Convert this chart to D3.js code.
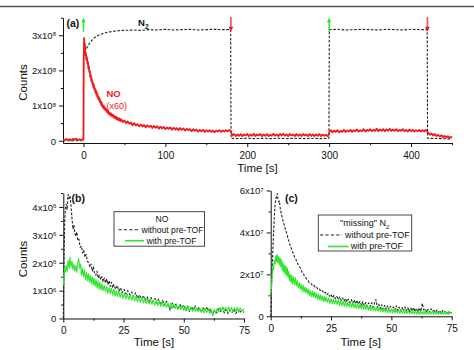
<!DOCTYPE html>
<html>
<head>
<meta charset="utf-8">
<script src="https://cdn.jsdelivr.net/npm/d3@7"></script>
<style>
  body { margin: 0; background: #fff; }
  svg { display: block; font-family: "Liberation Sans", Arial, sans-serif; }
</style>
</head>
<body>
<svg id="chart" width="474" height="350"></svg>
<script>
// ---- data ----
// (a) NO signal x60, units 1e8 counts, [time s, value]
const noTop = [
  [-25,0.03],[-23,0.01],[-21,0.05],[-19,0.02],[-17,0.04],[-15,0.01],[-13,0.05],[-11,0.03],[-9,0.06],[-7,0.02],[-5,0.04],[-3,0.02],[-1,0.05],[0,0.03],
  [0.2,2.2],[0.8,2.92],[1.3,2.6],[1.8,2.75],[2.4,2.45],[3,2.5],[3.6,2.3],[4.2,2.38],[4.8,2.2],[5.4,2.25],[6,2.05],[6.6,2.12],[7.2,1.95],[7.8,1.98],[8.4,1.8],[9,1.86],[9.6,1.7],[10.2,1.76],[10.8,1.62],[11.4,1.66],[12,1.52],[12.6,1.6],[13.2,1.46],[13.8,1.5],[14.4,1.38],[15,1.44],[15.6,1.32],[16.2,1.38],[16.8,1.26],[17.4,1.3],[18,1.19],[18.6,1.25],[19.2,1.14],[19.8,1.2],[20.4,1.08],[21,1.13],[21.6,1.03],[22.2,1.09],[22.8,0.98],[23.4,1.02],[24,0.94],[24.6,0.99],[25.2,0.9],[26,0.95],[27,0.86],[28,0.9],[29,0.8],[30,0.86],[31,0.76],[32,0.8],[33,0.72],[34,0.77],[35,0.69],[36,0.74],[37,0.66],[38,0.7],[39,0.63],[40,0.68],[41,0.6],[42,0.65],[43,0.58],[44,0.63],[45,0.56],[46,0.61],[48,0.53],[50,0.58],[52,0.5],[54,0.55],[56,0.48],[58,0.52],[60,0.44],[62,0.5],[64,0.43],[66,0.47],[68,0.41],[70,0.46],[72,0.4],[74,0.45],[76,0.38],[78,0.44],[80,0.39],[82,0.43],[84,0.36],[86,0.42],[88,0.37],[90,0.41],[92,0.34],[94,0.4],[96,0.35],[98,0.39],[100,0.33],[102,0.38],[104,0.34],[106,0.38],[108,0.31],[110,0.37],[112,0.32],[114,0.36],[116,0.3],[118,0.36],[120,0.31],[122,0.35],[124,0.29],[126,0.34],[128,0.3],[130,0.33],[132,0.27],[134,0.33],[136,0.28],[138,0.32],[140,0.26],[142,0.31],[144,0.27],[146,0.31],[148,0.25],[150,0.3],[152,0.26],[154,0.3],[156,0.25],[158,0.29],[160,0.24],[162,0.29],[164,0.26],[166,0.3],[168,0.25],[170,0.29],[172,0.26],[174,0.3],[176,0.27],[178,0.31],[179.5,0.28],
  [181,0.2],[182,0.15],[184,0.19],[186,0.13],[188,0.18],[190,0.14],[192,0.19],[194,0.13],[196,0.18],[198,0.15],[200,0.19],[202,0.13],[204,0.18],[206,0.14],[208,0.2],[210,0.13],[212,0.18],[214,0.15],[216,0.19],[218,0.13],[220,0.18],[222,0.14],[224,0.19],[226,0.13],[228,0.17],[230,0.14],[232,0.2],[234,0.14],[236,0.18],[238,0.13],[240,0.19],[242,0.15],[244,0.2],[246,0.14],[248,0.18],[250,0.13],[252,0.19],[254,0.15],[256,0.18],[258,0.13],[260,0.19],[262,0.14],[264,0.18],[266,0.13],[268,0.19],[270,0.15],[272,0.18],[274,0.13],[276,0.19],[278,0.14],[280,0.18],[282,0.13],[284,0.18],[286,0.14],[288,0.19],[290,0.13],[292,0.18],[294,0.14],[296,0.17],[298,0.13],[299.5,0.18],
  [300.5,0.26],[302,0.3],[304,0.24],[306,0.29],[308,0.25],[310,0.3],[312,0.24],[314,0.28],[316,0.25],[318,0.31],[320,0.25],[322,0.29],[324,0.26],[326,0.31],[328,0.25],[330,0.3],[332,0.27],[334,0.32],[336,0.26],[338,0.3],[340,0.27],[342,0.33],[344,0.26],[346,0.31],[348,0.28],[350,0.33],[352,0.27],[354,0.31],[356,0.28],[358,0.34],[360,0.27],[362,0.32],[364,0.28],[366,0.33],[368,0.27],[370,0.32],[372,0.28],[374,0.34],[376,0.28],[378,0.32],[380,0.28],[382,0.33],[384,0.27],[386,0.31],[388,0.28],[390,0.33],[392,0.27],[394,0.31],[396,0.26],[398,0.32],[400,0.27],[402,0.31],[404,0.26],[406,0.3],[408,0.27],[410,0.31],[412,0.26],[414,0.3],[416,0.27],[418,0.31],[419.5,0.27],
  [421,0.22],[423,0.17],[425,0.21],[427,0.15],[429,0.19],[431,0.13],[433,0.17],[435,0.12],[437,0.16],[439,0.1],[441,0.14],[443,0.09],[445,0.13],[447,0.08],[449,0.11],[450,0.09]
];
// (a) N2 signal, units 1e8 counts
const n2Top = [
  [-25,0],[0,0],[0.3,2.5],[2,2.56],[4,2.64],[6,2.72],[8,2.8],[10,2.85],[12,2.9],[15,2.96],[18,3.0],[21,3.03],[25,3.06],[30,3.09],[36,3.11],[42,3.13],[50,3.14],[60,3.15],[70,3.14],[80,3.16],[90,3.15],[100,3.17],[110,3.15],[120,3.16],[130,3.17],[140,3.15],[150,3.16],[160,3.17],[170,3.16],[179.7,3.16],
  [180.2,0.07],[190,0.06],[200,0.07],[210,0.06],[220,0.07],[230,0.06],[240,0.07],[250,0.06],[260,0.07],[270,0.06],[280,0.07],[290,0.06],[299.7,0.07],
  [300.2,3.16],[310,3.17],[320,3.15],[330,3.16],[340,3.17],[350,3.16],[360,3.15],[370,3.17],[380,3.16],[390,3.15],[400,3.17],[410,3.16],[419.7,3.16],
  [420.2,0.07],[435,0.06],[450,0.05]
];
const valveOpen = [0, 300];    // green arrows
const valveClose = [180, 420]; // red arrows

// (b) NO, units 1e6 counts
const noWithout = [
  [0,0],[0.3,2.2],[0.6,3.5],[0.9,3.95],[1.2,4.1],[1.6,3.9],[2,4.45],[2.4,4.3],[2.8,4.4],[3.2,4.05],[3.6,3.6],[4,3.2],[4.4,3.35],[4.8,3.05],[5.2,2.95],[5.6,3.1],[6,2.8],[6.5,2.85],[7,2.55],[7.5,2.6],[8,2.35],[8.5,2.45],[9,2.2],[9.5,2.3],[10,2.05],[10.5,2.0],[11,1.85],[11.5,1.95],[12,1.7],[12.5,1.85],[13,1.6],[13.5,1.55],[14,1.7],[14.5,1.45],[15,1.55],[15.5,1.4],[16,1.5],[16.5,1.32],[17,1.45],[17.5,1.28],[18,1.42],[18.5,1.22],[19,1.35],[19.5,1.15],[20,1.3],[20.5,1.1],[21,1.22],[21.7,1.05],[22.4,1.18],[23.1,0.98],[23.8,1.1],[24.5,0.92],[25.2,1.05],[26,0.88],[26.8,1.0],[27.6,0.85],[28.4,0.95],[29.2,0.78],[30,0.92],[30.8,0.72],[31.6,0.85],[32.4,0.7],[33.2,0.82],[34,0.65],[34.8,0.78],[35.6,0.62],[36.4,0.75],[37.2,0.6],[38,0.72],[38.8,0.55],[39.6,0.7],[40.4,0.5],[41.2,0.65],[42,0.48],[42.8,0.62],[43.6,0.45],[44.4,0.3],[45.2,0.55],[46,0.4],[46.8,0.52],[47.6,0.32],[48.4,0.5],[49.2,0.38],[50,0.48],[50.8,0.3],[51.6,0.45],[52.4,0.25],[53.2,0.42],[54,0.32],[54.8,0.45],[55.6,0.28],[56.4,0.4],[57.2,0.22],[58,0.38],[58.8,0.3],[59.6,0.42],[60.4,0.26],[61.2,0.35],[62,0.12],[62.8,0.3],[63.6,0.2],[64.4,0.35],[65.2,0.25],[66,0.38],[66.8,0.2],[67.6,0.32],[68.4,0.18],[69.2,0.3],[70,0.22],[70.8,0.34],[71.6,0.18],[72.4,0.3],[73.2,0.2],[74,0.28],[75,0.22]
];
const noWith = [
  [0,1.2],[0.3,1.6],[0.6,1.8],[0.9,1.65],[1.2,1.9],[1.6,1.7],[2,2.1],[2.4,1.8],[2.8,2.2],[3.2,1.85],[3.6,2.05],[4,1.75],[4.4,1.95],[4.8,1.7],[5.2,1.9],[5.6,1.65],[6,2.0],[6.4,2.15],[6.8,1.8],[7.2,1.95],[7.6,1.55],[8,1.8],[8.4,1.5],[8.8,1.75],[9.2,1.4],[9.6,1.65],[10,1.35],[10.4,1.6],[10.8,1.3],[11.2,1.55],[11.6,1.25],[12,1.5],[12.4,1.2],[12.8,1.45],[13.2,1.15],[13.6,1.4],[14,1.1],[14.4,1.35],[14.8,1.05],[15.2,1.3],[15.6,1.02],[16,1.25],[16.5,1.0],[17,1.2],[17.5,0.95],[18,1.15],[18.5,0.9],[19,1.12],[19.5,0.88],[20,1.08],[20.5,0.84],[21,1.05],[21.5,0.8],[22,1.0],[22.5,0.78],[23,0.98],[23.6,0.76],[24.2,0.95],[24.8,0.72],[25.4,0.9],[26,0.7],[26.6,0.88],[27.2,0.68],[27.8,0.85],[28.4,0.66],[29,0.82],[29.6,0.63],[30.2,0.8],[30.8,0.6],[31.4,0.78],[32,0.58],[32.6,0.76],[33.2,0.56],[33.8,0.72],[34.4,0.54],[35,0.7],[35.6,0.52],[36.2,0.68],[36.8,0.5],[37.4,0.66],[38,0.48],[38.6,0.64],[39.2,0.46],[39.8,0.62],[40.4,0.44],[41,0.6],[41.6,0.43],[42.2,0.58],[42.8,0.4],[43.4,0.56],[44,0.38],[44.6,0.55],[45.2,0.36],[45.8,0.52],[46.4,0.35],[47,0.5],[47.6,0.34],[48.2,0.48],[48.8,0.32],[49.4,0.46],[50,0.3],[50.6,0.45],[51.2,0.28],[51.8,0.44],[52.4,0.28],[53,0.42],[53.6,0.26],[54.2,0.4],[54.8,0.25],[55.4,0.38],[56,0.24],[56.6,0.37],[57.2,0.22],[57.8,0.36],[58.4,0.2],[59,0.36],[59.6,0.22],[60.2,0.35],[60.8,0.18],[61.4,0.34],[62,0.1],[62.6,0.3],[63.2,0.2],[63.8,0.35],[64.4,0.24],[65,0.4],[65.6,0.26],[66.2,0.42],[66.8,0.28],[67.4,0.4],[68,0.25],[68.6,0.42],[69.2,0.27],[69.8,0.4],[70.4,0.24],[71,0.38],[71.6,0.26],[72.2,0.4],[72.8,0.25],[73.4,0.38],[74,0.26],[75,0.34]
];
// (c) "missing" N2, units 1e7 counts
const n2Without = [
  [0,0],[0.3,1.2],[0.6,2.3],[0.9,3.2],[1.2,4.0],[1.5,4.7],[1.8,5.3],[2.1,5.6],[2.4,5.7],[2.7,5.85],[3.0,5.6],[3.3,5.45],[3.6,5.5],[4.0,5.1],[4.4,4.9],[4.8,4.7],[5.2,4.5],[5.6,4.35],[6.0,4.2],[6.5,4.0],[7.0,3.8],[7.5,3.6],[8.0,3.4],[8.5,3.25],[9.0,3.1],[9.5,2.95],[10,2.8],[10.5,2.7],[11,2.55],[11.5,2.45],[12,2.35],[12.5,2.25],[13,2.1],[13.5,2.05],[14,1.9],[14.5,1.85],[15,1.75],[15.5,1.7],[16,1.6],[16.6,1.58],[17.2,1.48],[17.8,1.5],[18.4,1.38],[19,1.4],[19.6,1.28],[20.2,1.3],[20.8,1.18],[21.4,1.22],[22,1.1],[22.6,1.15],[23.2,1.02],[23.8,1.1],[24.4,0.95],[25,1.05],[25.6,0.88],[26.2,1.0],[26.8,0.84],[27.4,0.95],[28,0.8],[28.6,0.92],[29.2,0.76],[29.8,0.88],[30.4,0.72],[31,0.85],[31.6,0.68],[32.2,0.82],[32.8,0.66],[33.4,0.8],[34,0.62],[34.6,0.78],[35.2,0.6],[35.8,0.76],[36.4,0.58],[37,0.72],[37.6,0.52],[38.2,0.7],[38.8,0.5],[39.4,0.66],[40,0.48],[40.6,0.64],[41.2,0.46],[41.8,0.65],[42.4,0.44],[43,0.62],[43.6,0.8],[44.2,0.42],[44.8,0.58],[45.4,0.36],[46,0.55],[46.6,0.34],[47.2,0.52],[47.8,0.3],[48.4,0.5],[49,0.32],[49.6,0.48],[50.2,0.28],[50.8,0.45],[51.4,0.3],[52,0.5],[52.6,0.28],[53.2,0.44],[53.8,0.26],[54.4,0.42],[55,0.24],[55.6,0.45],[56.2,0.26],[56.8,0.42],[57.4,0.22],[58,0.4],[58.6,0.25],[59.2,0.42],[59.8,0.22],[60.4,0.38],[61,0.2],[61.6,0.4],[62.2,0.22],[62.8,0.62],[63.4,0.3],[64,0.36],[64.6,0.2],[65.2,0.34],[65.8,0.18],[66.4,0.36],[67,0.2],[67.6,0.32],[68.2,0.16],[68.8,0.3],[69.4,0.18],[70,0.28],[70.6,0.14],[71.2,0.28],[71.8,0.16],[72.4,0.26],[73,0.14],[73.6,0.24],[74.2,0.12],[75,0.2]
];
const n2With = [
  [0,1.0],[0.3,1.4],[0.6,1.9],[0.9,2.4],[1.2,2.2],[1.5,2.7],[1.8,2.5],[2.1,2.9],[2.4,2.6],[2.7,2.95],[3.0,2.55],[3.3,2.85],[3.6,2.45],[3.9,2.8],[4.2,2.35],[4.5,2.7],[4.8,2.2],[5.1,2.55],[5.4,2.1],[5.7,2.45],[6.0,2.0],[6.3,2.4],[6.6,1.95],[6.9,2.3],[7.2,1.85],[7.5,2.15],[7.8,1.7],[8.1,2.0],[8.4,1.6],[8.7,1.95],[9.0,1.55],[9.4,1.9],[9.8,1.5],[10.2,1.85],[10.6,1.45],[11,1.7],[11.4,1.35],[11.8,1.6],[12.2,1.3],[12.6,1.55],[13,1.2],[13.4,1.5],[13.8,1.15],[14.2,1.4],[14.6,1.1],[15,1.35],[15.4,1.05],[15.8,1.3],[16.2,0.98],[16.6,1.22],[17,0.92],[17.4,1.2],[17.8,0.9],[18.2,1.15],[18.6,0.86],[19,1.1],[19.4,0.82],[19.8,1.05],[20.2,0.78],[20.6,1.02],[21,0.75],[21.4,0.98],[21.8,0.72],[22.2,0.95],[22.6,0.7],[23,0.92],[23.5,0.66],[24,0.88],[24.5,0.62],[25,0.85],[25.5,0.6],[26,0.82],[26.5,0.58],[27,0.8],[27.5,0.56],[28,0.78],[28.5,0.52],[29,0.75],[29.5,0.5],[30,0.72],[30.5,0.48],[31,0.7],[31.5,0.46],[32,0.68],[32.5,0.44],[33,0.66],[33.5,0.42],[34,0.64],[34.5,0.4],[35,0.62],[35.5,0.38],[36,0.6],[36.5,0.36],[37,0.58],[37.5,0.35],[38,0.56],[38.5,0.33],[39,0.54],[39.5,0.32],[40,0.52],[40.5,0.3],[41,0.5],[41.5,0.28],[42,0.48],[42.5,0.26],[43,0.46],[43.5,0.25],[44,0.44],[44.5,0.24],[45,0.42],[45.5,0.22],[46,0.4],[46.5,0.2],[47,0.38],[47.5,0.2],[48,0.37],[48.5,0.18],[49,0.36],[49.5,0.18],[50,0.34],[50.5,0.17],[51,0.33],[51.5,0.16],[52,0.32],[52.5,0.15],[53,0.32],[53.5,0.14],[54,0.3],[54.5,0.14],[55,0.3],[55.5,0.13],[56,0.28],[56.5,0.13],[57,0.28],[57.5,0.12],[58,0.27],[58.5,0.12],[59,0.26],[59.5,0.11],[60,0.26],[60.5,0.1],[61,0.25],[61.5,0.1],[62,0.25],[62.5,0.1],[63,0.24],[63.5,0.1],[64,0.24],[64.5,0.1],[65,0.24],[65.5,0.1],[66,0.23],[66.5,0.1],[67,0.23],[67.5,0.1],[68,0.22],[68.5,0.1],[69,0.22],[69.5,0.1],[70,0.22],[70.5,0.1],[71,0.21],[71.5,0.1],[72,0.21],[72.5,0.1],[73,0.2],[73.5,0.1],[74,0.2],[75,0.15]
];

// ticks
const topXMajor = [0, 100, 200, 300, 400], topXMinor = [50, 150, 250, 350, 450];
const topYMajor = [0, 1, 2, 3], topYMinor = [0.5, 1.5, 2.5, 3.5];
const botXMajor = [0, 25, 50, 75], botXMinor = [12.5, 37.5, 62.5];
const bYMajor = [0, 1, 2, 3, 4], bYMinor = [0.5, 1.5, 2.5, 3.5, 4.5];
const cYMajor = [0, 2, 4, 6], cYMinor = [1, 3, 5];

const RED = '#ee1c1c', GREEN = '#2fe62f', ARROW_RED = '#f0504a';

const svg = d3.select('#chart');

// page rule at the top of the scan
svg.append('line').attr('x1', 0).attr('x2', 474).attr('y1', 6.5).attr('y2', 6.5)
  .attr('stroke', '#555').attr('stroke-width', 1.6);

function drawAxes(x, y, yMajor, yMinor, xMajor, xMinor, exp) {
  const g = svg.append('g');
  const y0 = y.range()[0], x0 = x.range()[0];
  const xa = g.append('g').attr('transform', `translate(0,${y0})`)
    .call(d3.axisBottom(x).tickValues(xMajor).tickSize(4).tickSizeOuter(0).tickPadding(4.5).tickFormat(d3.format('d')));
  g.append('g').attr('transform', `translate(0,${y0})`)
    .call(d3.axisBottom(x).tickValues(xMinor).tickSize(2.2).tickSizeOuter(0).tickFormat(''))
    .select('.domain').remove();
  const ya = g.append('g').attr('transform', `translate(${x0},0)`)
    .call(d3.axisLeft(y).tickValues(yMajor).tickSize(4).tickSizeOuter(0).tickPadding(3).tickFormat(''));
  g.append('g').attr('transform', `translate(${x0},0)`)
    .call(d3.axisLeft(y).tickValues(yMinor).tickSize(2.2).tickSizeOuter(0).tickFormat(''))
    .select('.domain').remove();
  g.selectAll('.tick line, .domain').attr('stroke', '#111');
  xa.selectAll('text').attr('font-size', 10).attr('fill', '#111').attr('font-family', null);
  // y labels like 3x10^8
  ya.selectAll('.tick text').each(function (d) {
    const t = d3.select(this).attr('font-size', 9.5).attr('fill', '#111').attr('font-family', null).attr('dy', '0.35em');
    if (d === 0) { t.append('tspan').text('0'); return; }
    t.append('tspan').text(d + 'x10');
    t.append('tspan').attr('font-size', 6).attr('dy', '-0.45em').text(exp);
  });
  return g;
}

function drawLine(data, x, y, color, width, dash) {
  const line = d3.line().x(d => x(d[0])).y(d => y(d[1]));
  const p = svg.append('path').datum(data).attr('d', line)
    .attr('fill', 'none').attr('stroke', color).attr('stroke-width', width)
    .attr('stroke-linejoin', 'round');
  if (dash) p.attr('stroke-dasharray', dash);
  return p;
}

function label(txt, x, y, opts = {}) {
  const t = svg.append('text').attr('x', x).attr('y', y)
    .attr('font-size', opts.size || 11).attr('fill', opts.color || '#111')
    .attr('text-anchor', opts.anchor || 'start');
  if (opts.bold) t.attr('font-weight', 'bold');
  if (opts.rotate) t.attr('transform', `rotate(-90,${x},${y})`);
  t.text(txt);
  return t;
}

// ---------- panel (a) ----------
const xA = d3.scaleLinear().domain([-25, 450]).range([63, 452]);
const yA = d3.scaleLinear().domain([-0.065, 3.5]).range([143, 17.7]);
drawAxes(xA, yA, topYMajor, topYMinor, topXMajor, topXMinor, '8');

drawLine(n2Top, xA, yA, '#222', 1.1, '2.6,1.6');
drawLine(noTop, xA, yA, RED, 1.8);

// valve arrows
valveOpen.forEach(t => {
  const px = xA(t);
  svg.append('line').attr('x1', px).attr('x2', px).attr('y1', yA(3.1)).attr('y2', yA(3.4))
    .attr('stroke', GREEN).attr('stroke-width', 1.6);
  svg.append('path').attr('d', `M${px - 2.3},${yA(3.37)}L${px + 2.3},${yA(3.37)}L${px},${yA(3.5)}Z`).attr('fill', GREEN);
});
valveClose.forEach(t => {
  const px = xA(t);
  svg.append('line').attr('x1', px).attr('x2', px).attr('y1', yA(3.52)).attr('y2', yA(3.2))
    .attr('stroke', ARROW_RED).attr('stroke-width', 1.6);
  svg.append('path').attr('d', `M${px - 2.3},${yA(3.24)}L${px + 2.3},${yA(3.24)}L${px},${yA(3.1)}Z`).attr('fill', '#e02020');
});

label('(a)', 66.5, 26.5, { bold: true, size: 10.5 });
const n2 = label('N', 138, 26, { bold: true, size: 9.5 });
n2.append('tspan').attr('font-size', 6.5).attr('dy', 3).text('2');
label('NO', 106.5, 96.7, { bold: true, size: 9.5, color: RED });
label('(x60)', 106.5, 108.5, { size: 9, color: RED });
label('Counts', 26.5, 82.5, { size: 11.5, anchor: 'middle', rotate: true });
label('Time [s]', 257.5, 171.5, { size: 11.5, anchor: 'middle' });

// ---------- panel (b) ----------
const xB = d3.scaleLinear().domain([0, 75]).range([63.3, 244]);
const yB = d3.scaleLinear().domain([0, 4.5]).range([318.5, 193]);
drawAxes(xB, yB, bYMajor, bYMinor, botXMajor, botXMinor, '6');
drawLine(noWithout, xB, yB, '#222', 1.1, '2.6,1.6');
drawLine(noWith, xB, yB, GREEN, 1.1);
label('(b)', 71.5, 202, { bold: true, size: 10.5 });
label('Counts', 26.5, 259, { size: 11.5, anchor: 'middle', rotate: true });
label('Time [s]', 154, 346, { size: 11.5, anchor: 'middle' });

// legend (b)
svg.append('rect').attr('x', 114).attr('y', 211.7).attr('width', 90.5).attr('height', 34.5)
  .attr('fill', '#fff').attr('stroke', '#333').attr('stroke-width', 0.9);
label('NO', 162, 222.3, { size: 8.6, anchor: 'middle' });
svg.append('line').attr('x1', 118.5).attr('x2', 139).attr('y1', 229.8).attr('y2', 229.8)
  .attr('stroke', '#222').attr('stroke-width', 1.1).attr('stroke-dasharray', '3.2,2.2');
label('without pre-TOF', 141.5, 232.6, { size: 8.6 });
svg.append('line').attr('x1', 125).attr('x2', 144).attr('y1', 240.7).attr('y2', 240.7)
  .attr('stroke', GREEN).attr('stroke-width', 1.6);
label('with pre-TOF', 146.5, 243.6, { size: 8.6 });

// ---------- panel (c) ----------
const xC = d3.scaleLinear().domain([0, 75]).range([270.7, 451.7]);
const yC = d3.scaleLinear().domain([0, 6]).range([316.3, 190.5]);
drawAxes(xC, yC, cYMajor, cYMinor, botXMajor, botXMinor, '7');
drawLine(n2Without, xC, yC, '#222', 1.1, '2.6,1.6');
drawLine(n2With, xC, yC, GREEN, 1.1);
label('(c)', 285, 202, { bold: true, size: 10.5 });
label('Time [s]', 360.7, 346, { size: 11.5, anchor: 'middle' });

// legend (c)
svg.append('rect').attr('x', 318.3).attr('y', 215).attr('width', 93.4).attr('height', 36)
  .attr('fill', '#fff').attr('stroke', '#333').attr('stroke-width', 0.9);
const lt = label('"missing" N', 340, 226, { size: 9 });
lt.append('tspan').attr('font-size', 6).attr('dy', 2.5).text('2');
svg.append('line').attr('x1', 320).attr('x2', 342).attr('y1', 235).attr('y2', 235)
  .attr('stroke', '#222').attr('stroke-width', 1.1).attr('stroke-dasharray', '3.2,2.2');
label('without pre-TOF', 345, 238.2, { size: 9 });
svg.append('line').attr('x1', 328).attr('x2', 348.5).attr('y1', 246.5).attr('y2', 246.5)
  .attr('stroke', GREEN).attr('stroke-width', 1.6);
label('with pre-TOF', 350.7, 249.4, { size: 9 });
</script>
</body>
</html>
